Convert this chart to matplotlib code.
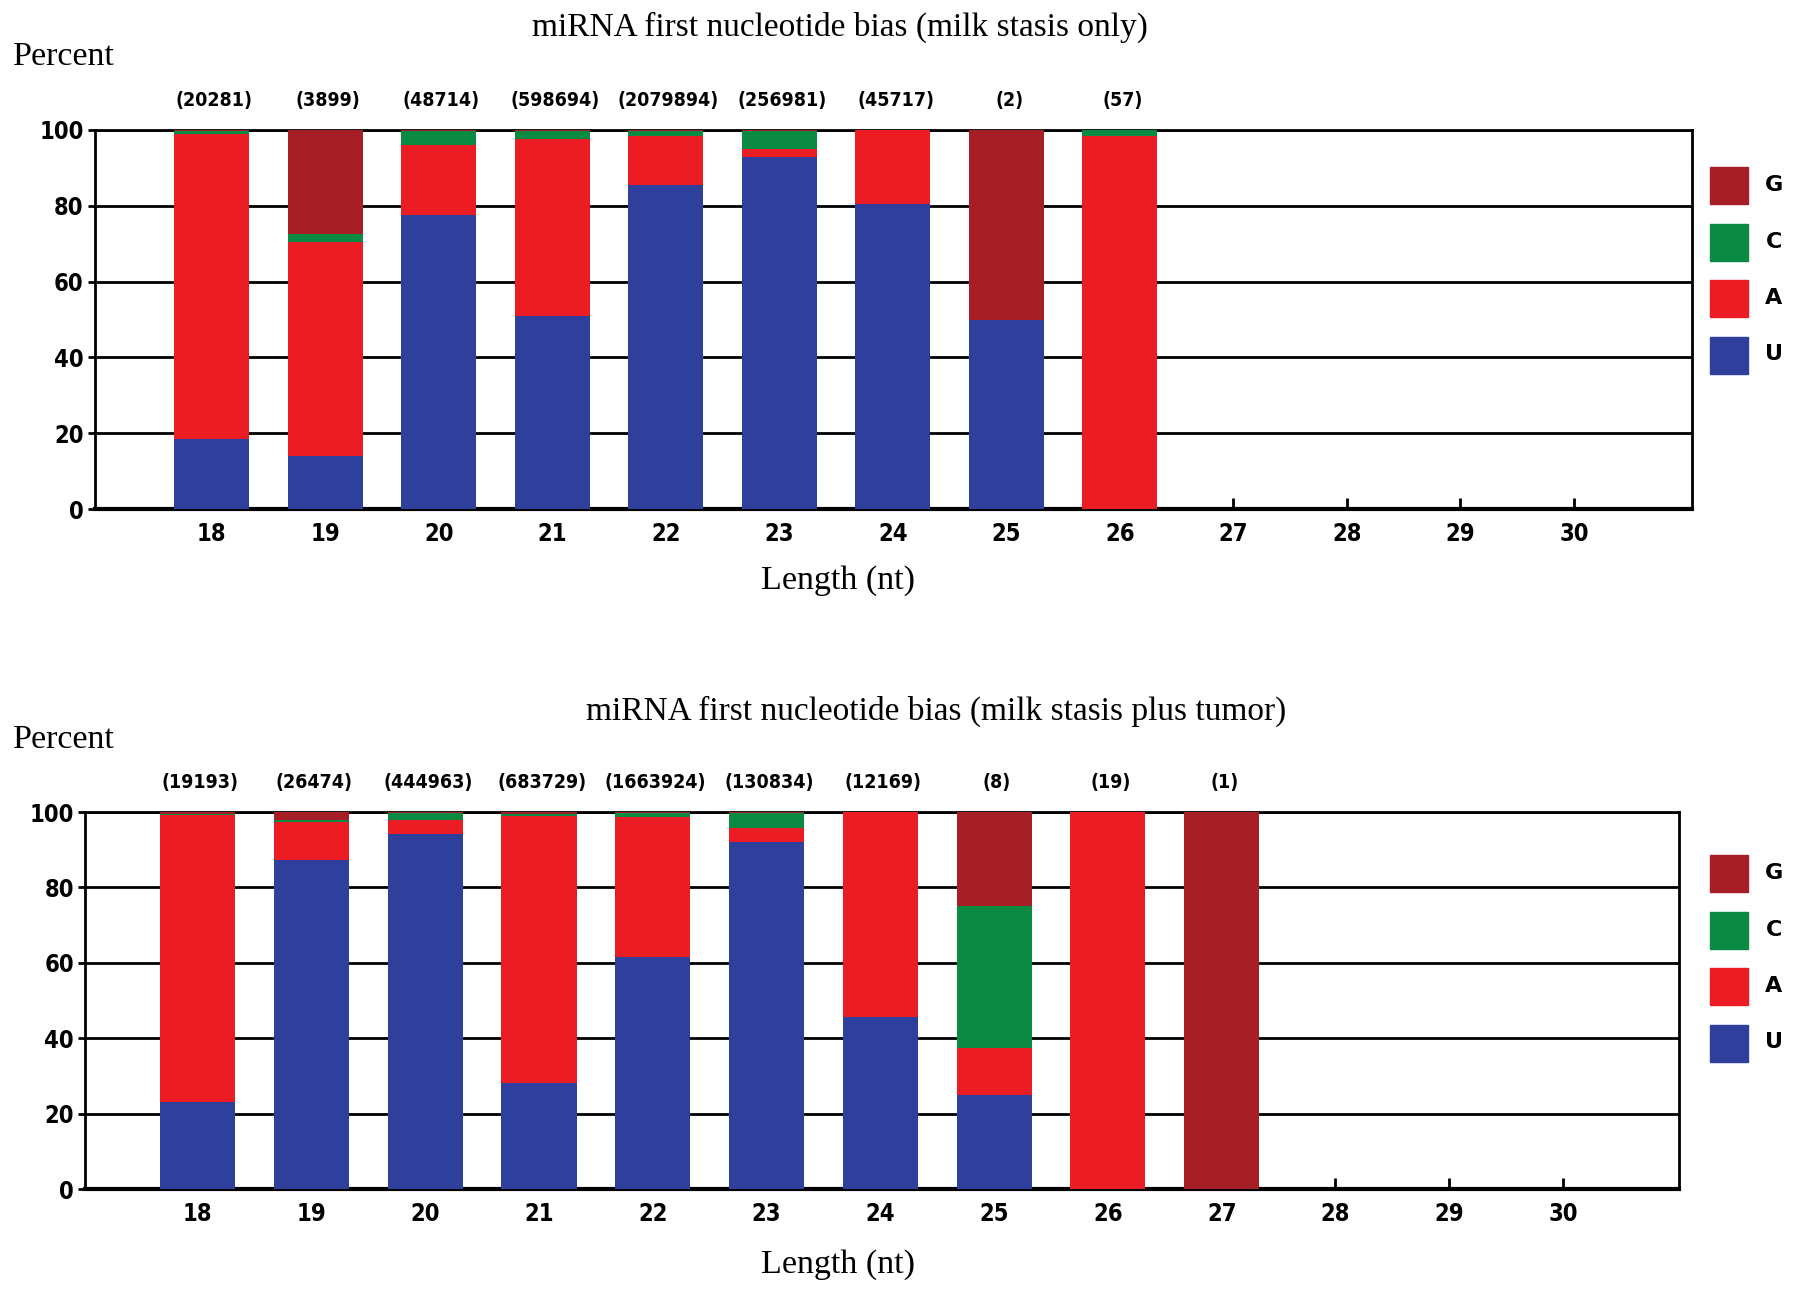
import numpy as np
import matplotlib.pyplot as plt
from matplotlib.patches import Rectangle

# comprimentos (nt) e rótulos do eixo x
comprimentos = list(range(18, 31))

# gráfico de cima: apenas estase láctea
len_top = [18, 19, 20, 21, 22, 23, 24, 25, 26]
contagem_top = ["(20281)", "(3899)", "(48714)", "(598694)", "(2079894)",
                "(256981)", "(45717)", "(2)", "(57)"]
U_top = [18.5, 14.0, 77.5, 51.0, 85.5, 92.8, 80.5, 50.0, 0.0]
A_top = [80.5, 56.5, 18.5, 46.6, 12.9, 2.2, 19.5, 0.0, 98.5]
C_top = [0.6, 2.0, 3.7, 2.2, 1.3, 4.6, 0.0, 0.0, 1.5]
G_top = [0.4, 27.5, 0.3, 0.2, 0.3, 0.4, 0.0, 50.0, 0.0]

# gráfico de baixo: estase láctea mais tumor
len_bot = [18, 19, 20, 21, 22, 23, 24, 25, 26, 27]
contagem_bot = ["(19193)", "(26474)", "(444963)", "(683729)", "(1663924)",
                "(130834)", "(12169)", "(8)", "(19)", "(1)"]
U_bot = [23.0, 87.3, 94.2, 28.0, 61.5, 92.1, 45.5, 25.0, 0.0, 0.0]
A_bot = [76.3, 10.0, 3.6, 71.0, 37.2, 3.7, 54.5, 12.5, 100.0, 0.0]
C_bot = [0.2, 0.7, 2.0, 0.5, 1.0, 3.9, 0.0, 37.5, 0.0, 0.0]
G_bot = [0.5, 2.0, 0.2, 0.5, 0.3, 0.3, 0.0, 25.0, 0.0, 100.0]

cores = {"U": "#2f3f9c", "A": "#ec1c24", "C": "#0a8a42", "G": "#a61f26"}

fig = plt.figure(figsize=(17.95, 12.92), dpi=100)


def desenhar(rect, xlim, comp, cont, U, A, C, G, titulo, x_titulo, y_titulo, y_percent, y_length, leg_y):
    ax = fig.add_axes(rect)
    base = np.zeros(len(comp))
    for nome, vals in [("U", U), ("A", A), ("C", C), ("G", G)]:
        ax.bar(comp, vals, bottom=base, width=0.66, color=cores[nome], zorder=3, linewidth=0)
        base = base + np.array(vals)

    ax.set_xlim(*xlim)
    ax.set_ylim(0, 100)
    ax.set_yticks([0, 20, 40, 60, 80, 100])
    ax.set_xticks(comprimentos)
    ax.grid(axis="y", color="black", linewidth=2)
    ax.set_axisbelow(True)
    for s in ax.spines.values():
        s.set_linewidth(2)
        s.set_zorder(2)
    ax.spines["bottom"].set_linewidth(3)
    ax.tick_params(axis="x", direction="in", length=8, width=2, pad=9)
    ax.tick_params(axis="y", direction="out", length=5, width=2, pad=3)
    for lab in ax.get_xticklabels() + ax.get_yticklabels():
        lab.set_fontweight("bold")
        lab.set_fontsize(17)
        lab.set_fontstretch("condensed")

    for x, c in zip(comp, cont):
        ax.annotate(c, (x, 100), xytext=(2, 21), textcoords="offset points",
                    ha="center", va="center", fontsize=14, fontweight="bold",
                    fontstretch="condensed")

    fig.text(x_titulo / 1795, y_titulo, titulo, ha="center", va="center",
             fontsize=24, family="Liberation Serif")
    fig.text(0.007, y_percent, "Percent", ha="left", va="center",
             fontsize=24.5, family="Liberation Serif")
    fig.text(838 / 1795, y_length, "Length (nt)", ha="center", va="center",
             fontsize=24.5, family="Liberation Serif")

    # legenda desenhada à mão, de cima para baixo: G, C, A, U
    for i, nome in enumerate(["G", "C", "A", "U"]):
        y0 = leg_y + i * 56.5
        fig.patches.append(Rectangle((1710 / 1795, 1 - (y0 + 37) / 1292), 38 / 1795, 37 / 1292,
                                     transform=fig.transFigure, color=cores[nome]))
        fig.text(1774 / 1795, 1 - (y0 + 18) / 1292, nome, ha="center", va="center",
                 fontsize=16, fontweight="bold")
    return ax


desenhar([0.0528, 0.606, 0.8898, 0.2934], (16.97, 31.04), len_top, contagem_top,
         U_top, A_top, C_top, G_top, "miRNA first nucleotide bias (milk stasis only)",
         840, 1 - 27 / 1292, 1 - 57 / 1292, 1 - 581 / 1292, 167)
desenhar([0.0474, 0.0797, 0.888, 0.2918], (17.01, 31.02), len_bot, contagem_bot,
         U_bot, A_bot, C_bot, G_bot, "miRNA first nucleotide bias (milk stasis plus tumor)",
         936, 1 - 711 / 1292, 1 - 740 / 1292, 1 - 1265 / 1292, 167 + 688)

fig.savefig("out.png", dpi=100)
